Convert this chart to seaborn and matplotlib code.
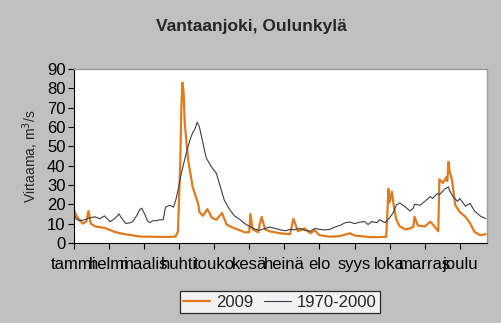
import matplotlib
matplotlib.use("Agg")
import matplotlib.pyplot as plt
import seaborn as sns
import pandas as pd

months = ["tammi", "helmi", "maalis", "huhti", "touko", "kesä",
          "heinä", "elo", "syys", "loka", "marras", "joulu"]
month_ticks = [0, 31, 62, 93, 124, 155, 186, 217, 248, 279, 310, 341]

days_2009 = [0, 3, 5, 8, 11, 13, 15, 19, 27, 32, 36, 41, 45, 50, 58, 67, 76, 85, 90, 92,
             94, 95, 96, 97, 98, 101, 105, 110, 111, 114, 118, 122, 126, 131, 135, 140, 147, 151, 155, 156,
             158, 163, 164, 166, 169, 173, 182, 191, 194, 198, 204, 209, 213, 217, 226, 235, 244, 248, 253, 262,
             270, 276, 277, 278, 279, 281, 283, 285, 288, 293, 297, 300, 301, 304, 310, 315, 319, 322, 323, 326,
             329, 330, 331, 332, 334, 337, 341, 346, 350, 354, 359, 364]
flow_2009 = [17, 13.5, 12, 10, 11, 16.5, 10, 8.5, 7.8, 6.7, 5.7, 5, 4.5, 4.1, 3.3, 3.2, 3.1, 3.1, 3.3, 6,
             40, 70, 83, 78, 62, 43, 29, 20, 16, 14, 17.5, 13, 12, 15.5, 9.5, 8, 6.5, 5.5, 5.5, 15,
             7, 5.5, 9, 13.5, 7, 6, 5, 4.5, 12.5, 6, 7.5, 5, 6.5, 4, 3.2, 3.5, 5, 3.8, 3.5, 3,
             3, 3.2, 15, 28, 21, 26.5, 18, 12, 8.5, 7, 7.5, 8.3, 13.5, 9, 8.5, 11, 8.3, 6, 33, 31,
             34, 32, 42, 37, 33, 19.6, 16, 13.5, 10.3, 5.7, 4, 4.5]

days_ref = [0, 2, 5, 10, 14, 19, 23, 27, 32, 36, 40, 42, 46, 50, 52, 56, 58, 60, 63, 65,
            67, 70, 73, 76, 79, 81, 85, 88, 90, 92, 95, 100, 103, 105, 107, 109, 111, 114, 117, 122,
            126, 129, 133, 138, 142, 147, 151, 156, 160, 164, 169, 173, 178, 182, 187, 191, 195, 200, 204, 209,
            213, 217, 222, 226, 231, 235, 240, 244, 248, 253, 257, 260, 263, 268, 270, 275, 279, 282, 285, 288,
            293, 297, 300, 301, 306, 310, 315, 317, 321, 323, 328, 331, 332, 335, 339, 341, 346, 350, 354, 359, 364]
flow_ref = [15, 12.5, 11.5, 12, 13, 13.5, 12.5, 14, 11, 12.5, 15, 13, 10, 10.5, 11, 14.5, 17, 18, 14.5, 11.5,
            10.5, 11.5, 11.5, 12, 12, 18.5, 19.5, 18.5, 22, 27, 36, 48, 54, 57, 59, 62.5, 60, 52, 44, 39,
            36, 30, 22, 17, 14, 12, 10, 8.3, 7.2, 6.5, 7.5, 8.2, 7.5, 6.8, 6.3, 7, 6.8, 7.5, 6.5, 6,
            7.5, 7, 6.7, 7, 8.3, 9, 10.5, 10.8, 10, 10.8, 11, 9.5, 11, 10.5, 12, 10.5, 13, 15.5, 19.6, 20.7,
            18.6, 16.5, 18, 20, 19.5, 21.5, 24, 23, 25.5, 25, 28, 29, 27, 24, 21.5, 23, 19, 20.5, 16.5, 14, 12.5]

df_2009 = pd.DataFrame({"day": days_2009, "flow": flow_2009})
df_ref = pd.DataFrame({"day": days_ref, "flow": flow_ref})

sns.set_theme(style="white")
plt.rcParams["font.family"] = ["Liberation Sans", "DejaVu Sans"]

bg = "#c0c0c0"
fig = plt.figure(figsize=(5.02, 3.23), dpi=100, facecolor=bg)
ax = fig.add_axes([0.147, 0.248, 0.823, 0.538])
ax.set_facecolor("white")

sns.lineplot(data=df_2009, x="day", y="flow", ax=ax, color="#e07a1f", linewidth=1.6, label="2009")
sns.lineplot(data=df_ref, x="day", y="flow", ax=ax, color="#3a3f4a", linewidth=0.8, label="1970-2000")

ax.set_xlim(0, 365)
ax.set_ylim(0, 90)
ax.set_yticks(range(0, 91, 10))
ax.set_xticks(month_ticks)
ax.set_xticklabels(months)
ax.tick_params(axis="both", which="both", direction="out", length=4, width=0.8,
               colors="black", labelsize=12, left=True, bottom=True)
ax.tick_params(axis="x", pad=6)
ax.tick_params(axis="y", pad=2)
ax.set_xlabel("")
ax.set_ylabel("Virtaama, m$^3$/s", fontsize=10, labelpad=4)

for s in ["left", "bottom"]:
    ax.spines[s].set_color("black")
    ax.spines[s].set_linewidth(0.8)
for s in ["top", "right"]:
    ax.spines[s].set_color("#9a9a9a")
    ax.spines[s].set_linewidth(1.0)

fig.text(0.5, 1 - 26 / 323, "Vantaanjoki, Oulunkylä", ha="center", va="center",
         fontsize=12.5, fontweight="bold")

ax.get_legend().remove()
handles, labels = ax.get_legend_handles_labels()
leg = fig.legend(handles, labels, loc="center", bbox_to_anchor=(0.558, 0.064), ncol=2,
                 fontsize=12, frameon=True, fancybox=False, edgecolor="black",
                 handlelength=1.6, handletextpad=0.4, columnspacing=0.6,
                 borderpad=0.2, borderaxespad=0)
leg.get_frame().set_linewidth(0.9)
leg.get_frame().set_facecolor("white")

fig.savefig("out.png", dpi=100, facecolor=bg)
